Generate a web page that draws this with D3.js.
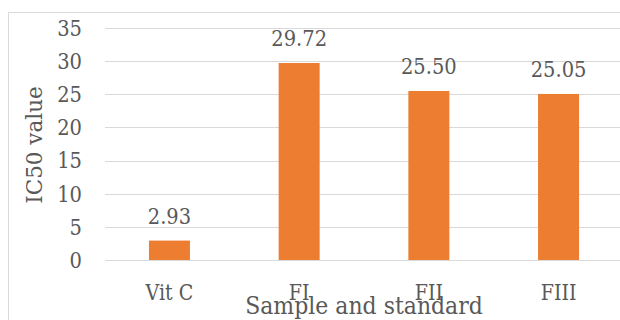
<!DOCTYPE html>
<html>
<head>
<meta charset="utf-8">
<script src="https://cdn.jsdelivr.net/npm/d3@7"></script>
<style>
  html, body { margin: 0; padding: 0; background: #fff; }
  svg { display: block; }
  text { font-family: "DejaVu Serif", "Liberation Serif", serif; fill: #595959; }
</style>
</head>
<body>
<script>
// IC50 values for the standard and the three fractions
const categories = ["Vit C", "FI", "FII", "FIII"];
const ic50Values = [2.93, 29.72, 25.50, 25.05];
const valueLabels = ["2.93", "29.72", "25.50", "25.05"];
const yTicks = [0, 5, 10, 15, 20, 25, 30, 35];
const xTitle = "Sample and standard";
const yTitle = "IC50 value";

const W = 620, H = 320;
const svg = d3.select("body").append("svg").attr("width", W).attr("height", H);

// place a text at (x, y) with a slight vertical stretch of the glyphs
const at = (x, y, sy) => `translate(${x},${y}) scale(1,${sy})`;

// chart frame (only top and left edges fall inside the view)
svg.append("rect")
  .attr("x", 8.5).attr("y", 12.5)
  .attr("width", W + 20).attr("height", H + 20)
  .attr("fill", "none").attr("stroke", "#d9d9d9").attr("stroke-width", 1);

const x = d3.scaleBand()
  .domain(categories)
  .range([104.6, 623.4])
  .paddingInner(0.684)
  .paddingOuter(0.342);

const y = d3.scaleLinear().domain([0, 35]).range([260, 28]);

// horizontal gridlines
svg.append("g").selectAll("line").data(yTicks).join("line")
  .attr("x1", 105).attr("x2", W)
  .attr("y1", d => Math.round(y(d)) + 0.5).attr("y2", d => Math.round(y(d)) + 0.5)
  .attr("stroke", "#d9d9d9").attr("stroke-width", 1);

// y tick labels
svg.append("g").selectAll("text").data(yTicks).join("text")
  .attr("transform", d => at(82, y(d), 1.12))
  .attr("dy", "0.36em")
  .attr("text-anchor", "end")
  .attr("font-size", 19.5)
  .text(d => d);

// bars
svg.append("g").selectAll("rect").data(ic50Values).join("rect")
  .attr("x", (d, i) => x(categories[i]))
  .attr("y", d => y(d))
  .attr("width", x.bandwidth())
  .attr("height", d => y(0) - y(d))
  .attr("fill", "#ED7D31");

// value labels above bars
svg.append("g").selectAll("text").data(ic50Values).join("text")
  .attr("transform", (d, i) => at(x(categories[i]) + x.bandwidth() / 2, y(d) - 17, 1.15))
  .attr("text-anchor", "middle")
  .attr("font-size", 19.5)
  .text((d, i) => valueLabels[i]);

// category labels
svg.append("g").selectAll("text").data(categories).join("text")
  .attr("transform", d => at(x(d) + x.bandwidth() / 2, 299.5, 1.22))
  .attr("text-anchor", "middle")
  .attr("font-size", 19)
  .text(d => d);

// axis titles
svg.append("text")
  .attr("transform", at(364, 314, 1.12))
  .attr("text-anchor", "middle")
  .attr("font-size", 22)
  .text(xTitle);

svg.append("text")
  .attr("transform", "translate(42,145) rotate(-90)")
  .attr("text-anchor", "middle")
  .attr("font-size", 21.5)
  .text(yTitle);
</script>
</body>
</html>
